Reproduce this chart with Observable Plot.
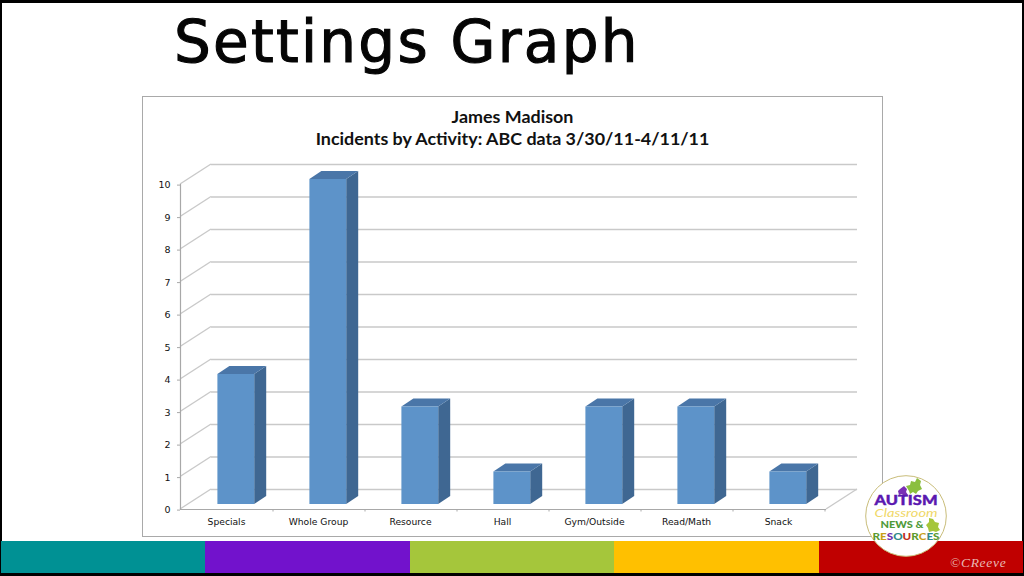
<!DOCTYPE html>
<html>
<head>
<meta charset="utf-8">
<script src="https://cdn.jsdelivr.net/npm/d3@7"></script>
<script src="https://cdn.jsdelivr.net/npm/@observablehq/plot@0.6"></script>
<style>
html,body{margin:0;padding:0;background:#000;}
#page{position:relative;width:1024px;height:576px;overflow:hidden;background:#000;}
#sheet{position:absolute;left:2px;top:3px;width:1020px;height:570px;background:#fff;}
#panel{position:absolute;left:142px;top:96px;width:739px;height:439px;border:1px solid #a9a9a9;background:#fff;}
#headline{position:absolute;left:174px;top:8px;font:400 58px "DejaVu Sans",sans-serif;letter-spacing:2.25px;color:#050505;white-space:nowrap;-webkit-text-stroke:1.1px #050505;}
.ct{position:absolute;left:142px;width:741px;text-align:center;font:700 17.9px Lato,sans-serif;color:#111;white-space:nowrap;}
#band{position:absolute;left:1px;top:541px;width:1022px;height:32px;display:flex;}
#band div{flex:1 1 0;}
#chart{position:absolute;left:0;top:0;}
#logo{position:absolute;left:864px;top:474px;width:84px;height:84px;}
#copy{position:absolute;left:950px;top:555px;font:italic 13.5px "Liberation Serif",serif;color:#e8b9b4;letter-spacing:.7px;}
</style>
</head>
<body>
<div id="page">
  <div id="sheet"></div>
  <div id="panel"></div>
  <div id="band"></div>
  <div id="headline"></div>
  <div class="ct" id="t1" style="top:105px"></div>
  <div class="ct" id="t2" style="top:127px"></div>
  <div id="chart"></div>
  <svg id="logo" viewBox="0 0 84 84">
    <circle cx="42" cy="42" r="40.3" fill="#fff" stroke="#c9bd7a" stroke-width="1"/>
    <g font-family="Lato,sans-serif" font-weight="900" text-anchor="middle">
      <path d="M42 12l4-1 1-4 4 1 2-4 4 3-1 4 2 4-4 2-2 3-3-2-3 2-1-3z" fill="#8bbf3f"/>
      <path d="M36 15l4-3 3 3-1 3 2 3-4 2-2-3-3 1-1-4z" fill="#7a2fb5"/>
      <text x="42" y="31" font-size="13" fill="#5a18b0" stroke="#5a18b0" stroke-width=".4" textLength="63" lengthAdjust="spacingAndGlyphs">AUTISM</text>
      <text x="42" y="42.5" font-size="10.5" font-style="italic" font-weight="400" fill="#f0d868" textLength="63" lengthAdjust="spacingAndGlyphs">Classroom</text>
      <text x="38" y="54" font-size="10" fill="#4f9a3a" textLength="43" lengthAdjust="spacingAndGlyphs">NEWS &amp;</text>
      <path d="M65 44l4 1 2 3 4 1-1 4 2 3-4 2-3-1-4 1-1-4-2-3 3-3z" fill="#a5c63b"/>
      <text x="42" y="65.5" font-size="10" fill="#2f7f88" textLength="67" lengthAdjust="spacingAndGlyphs"><tspan fill="#5c9a2e">R</tspan><tspan fill="#c8a018">E</tspan><tspan fill="#6a2fb0">S</tspan><tspan fill="#2f8a8a">O</tspan><tspan fill="#c03020">U</tspan><tspan fill="#5c9a2e">R</tspan><tspan fill="#c8a018">C</tspan><tspan fill="#2f8a8a">E</tspan><tspan fill="#5c9a2e">S</tspan></text>
    </g>
  </svg>
  <div id="copy">©CReeve</div>
</div>
<script>
const headline = "Settings Graph";
const chartTitle = "James Madison";
const chartSubtitle = "Incidents by Activity: ABC data 3/30/11-4/11/11";
const categories = ["Specials","Whole Group","Resource","Hall","Gym/Outside","Read/Math","Snack"];
const incidents = [4,10,3,1,3,3,1];
const yTicks = [0,1,2,3,4,5,6,7,8,9,10];
const bandColors = ["#009194","#7212cc","#a5c63b","#ffc000","#c00000"];
const rows = categories.map((activity,i)=>({activity,count:incidents[i]}));

document.getElementById("headline").textContent = headline;
document.getElementById("t1").textContent = chartTitle;
document.getElementById("t2").textContent = chartSubtitle;
d3.select("#band").selectAll("div").data(bandColors).join("div").style("background",d=>d);

// perspective offsets of the pseudo-3D drawing
const wallDx = 31, wallDy = -20;       // front plane -> back wall
const barDx = 8.8, barDy = -5;         // front plane -> bar front face
const depthDx = 12, depthDy = -8;      // bar front face -> bar back face
const barInset = 27.6;
const gridColor = "#c9c9c9", axisColor = "#a8a8a8";
const front = "#5d93c9", side = "#3f6792", top_ = "#4a76a8";

// side wall diagonals and floor edge, from the y scale
const walls = (index, {x, y}, values, dims) => {
  const g = d3.create("svg:g").attr("fill","none").attr("stroke",gridColor).attr("stroke-width",1.4);
  for (const t of yTicks) {
    g.append("line").attr("x1",dims.marginLeft).attr("y1",y(t))
      .attr("x2",dims.marginLeft+wallDx).attr("y2",y(t)+wallDy);
  }
  const xr = dims.width-dims.marginRight;
  g.append("line").attr("x1",xr).attr("y1",y(0)).attr("x2",xr+wallDx).attr("y2",y(0)+wallDy);
  // category boundary ticks
  categories.forEach(c=>{
    const b = x(c)+x.bandwidth();
    g.append("line").attr("x1",b).attr("x2",b).attr("y1",y(0)).attr("y2",y(0)+2.5).attr("stroke",axisColor).attr("stroke-width",1);
  });
  return g.node();
};

// side and top faces of the bars, from the x and y scales
const faces = (index, {x, y}) => {
  const g = d3.create("svg:g");
  for (const d of rows) {
    const l = x(d.activity)+barInset+barDx, r = x(d.activity)+x.bandwidth()-barInset+barDx;
    const t = y(d.count)+barDy, b = y(0)+barDy;
    g.append("path").attr("fill",side)
      .attr("d",`M${r},${t}L${r+depthDx},${t+depthDy}L${r+depthDx},${b+depthDy}L${r},${b}Z`);
    g.append("path").attr("fill",top_)
      .attr("d",`M${l},${t}L${l+depthDx},${t+depthDy}L${r+depthDx},${t+depthDy}L${r},${t}Z`);
  }
  return g.node();
};

const chart = Plot.plot({
  width:1024, height:576,
  marginLeft:180, marginRight:198, marginTop:184, marginBottom:67,
  style:{background:"transparent"},
  x:{type:"band",domain:categories,padding:0,label:null},
  y:{domain:[0,10],label:null},
  marks:[
    walls,
    Plot.ruleY(yTicks,{stroke:gridColor,strokeWidth:1.4,dx:wallDx,dy:wallDy}),
    Plot.ruleY([0],{stroke:axisColor,strokeWidth:1.2}),
    Plot.frame({anchor:"left",stroke:axisColor,strokeWidth:1.2}),
    faces,
    Plot.barY(rows,{x:"activity",y:"count",fill:front,insetLeft:barInset,insetRight:barInset,dx:barDx,dy:barDy}),
    Plot.axisY({ticks:yTicks,tickFormat:d3.format("d"),tickSize:3,tickPadding:7,stroke:axisColor,fontSize:9.5,fontFamily:"DejaVu Sans",fill:"#111",label:null,textStroke:"none",dy:0.6}),
    Plot.axisX({tickSize:0,tickPadding:9,fontSize:9.2,fontFamily:"DejaVu Sans",fill:"#111",label:null,dx:-1})
  ]
});
document.getElementById("chart").append(chart);
</script>
</body>
</html>
